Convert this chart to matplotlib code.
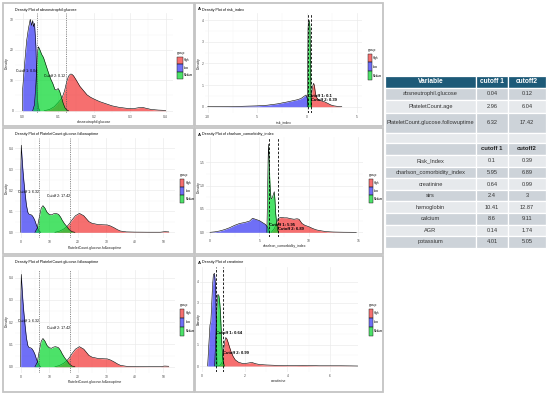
import matplotlib
matplotlib.use("Agg")
import matplotlib.pyplot as plt
from matplotlib.patches import Rectangle
from matplotlib import font_manager

W, H = 550, 396
_names = {f.name for f in font_manager.fontManager.ttflist}
NARROW = "Liberation Sans Narrow" if "Liberation Sans Narrow" in _names else "Liberation Sans"
plt.rcParams['font.family'] = [NARROW, 'DejaVu Sans']

# ---------------- data ----------------
groups = ["High", "Low", "Medium"]
group_colors = ["#F01010", "#1010F0", "#00D62A"]
group_alpha = [0.6, 0.6, 0.7]

# absneutrophil.glucose
abs_low_x = [0.000, 0.000, 0.005, 0.011, 0.016, 0.019, 0.021, 0.025, 0.028, 0.030, 0.033, 0.035, 0.037, 0.039, 0.041, 0.044, 0.048]
abs_low_y = [0.0, 7.3, 15.0, 23.0, 27.0, 28.7, 30.0, 28.0, 29.6, 27.6, 28.7, 25.0, 21.0, 11.0, 4.0, 1.0, 0.0]
abs_med_x = [0.028, 0.033, 0.037, 0.041, 0.044, 0.048, 0.053, 0.058, 0.065, 0.072, 0.078, 0.084, 0.090, 0.095, 0.099, 0.103, 0.108, 0.113, 0.118, 0.123, 0.128]
abs_med_y = [0.0, 2.0, 9.0, 18.8, 21.0, 20.0, 18.5, 17.5, 15.0, 12.5, 10.5, 9.0, 7.0, 6.8, 7.3, 6.5, 4.6, 2.5, 1.0, 0.3, 0.0]
abs_high_x = [0.060, 0.075, 0.088, 0.100, 0.110, 0.117, 0.123, 0.128, 0.133, 0.137, 0.142, 0.150, 0.160, 0.170, 0.180, 0.190, 0.200, 0.215, 0.230, 0.250, 0.270, 0.290, 0.310, 0.325, 0.335, 0.345, 0.360, 0.380, 0.400]
abs_high_y = [0.0, 0.4, 1.3, 2.8, 4.2, 6.5, 9.5, 11.3, 12.0, 12.0, 11.5, 10.0, 8.0, 6.6, 5.2, 4.4, 3.8, 3.0, 2.4, 1.6, 1.1, 0.8, 0.7, 1.0, 1.1, 0.8, 0.4, 0.2, 0.1]

# risk_index
risk_low_x = [-10.0, -8.0, -6.5, -5.0, -4.0, -3.0, -2.0, -1.5, -1.0, -0.6, -0.3, -0.1, 0.05, 0.15]
risk_low_y = [0.0, 0.005, 0.02, 0.04, 0.07, 0.13, 0.22, 0.27, 0.32, 0.38, 0.48, 0.54, 0.35, 0.0]
risk_med_x = [0.02, 0.06, 0.10, 0.15, 0.20, 0.25, 0.30, 0.35, 0.40, 0.45]
risk_med_y = [0.0, 1.5, 3.6, 3.95, 4.0, 3.9, 3.6, 2.0, 0.4, 0.0]
risk_high_x = [0.30, 0.40, 0.50, 0.60, 0.67, 0.75, 0.85, 1.00, 1.20, 1.50, 1.80, 2.10, 2.40, 2.70, 3.00, 3.50]
risk_high_y = [0.0, 0.3, 0.75, 1.0, 1.08, 0.95, 0.6, 0.4, 0.3, 0.26, 0.22, 0.15, 0.08, 0.04, 0.02, 0.0]

# PlateletCount.glucose.followuptime
plat_low_x = [0.0, 0.05, 0.2, 0.4, 0.7, 1.0, 1.5, 2.0, 2.5, 3.0, 3.5, 4.0, 4.5, 5.0, 5.5, 6.0, 6.5, 7.0]
plat_low_y = [0.0, 0.30, 0.415, 0.37, 0.31, 0.26, 0.19, 0.13, 0.095, 0.085, 0.085, 0.08, 0.07, 0.055, 0.035, 0.018, 0.006, 0.0]
plat_med_x = [5.0, 5.8, 6.5, 7.2, 7.8, 8.5, 9.2, 10.0, 10.8, 11.5, 12.1, 12.8, 13.3, 14.0, 14.5, 15.3, 16.2, 17.0, 18.0, 19.0]
plat_med_y = [0.0, 0.02, 0.07, 0.115, 0.127, 0.115, 0.096, 0.085, 0.083, 0.088, 0.09, 0.088, 0.085, 0.072, 0.059, 0.042, 0.027, 0.013, 0.003, 0.0]
plat_high_x = [12.0, 13.5, 15.0, 16.2, 17.2, 18.0, 19.2, 20.6, 22.1, 23.0, 23.9, 25.0, 26.8, 28.5, 30.4, 31.5, 32.7, 34.0, 35.0, 37.0, 40.0, 45.0, 49.0, 50.5, 51.9]
plat_high_y = [0.0, 0.005, 0.015, 0.027, 0.043, 0.059, 0.079, 0.090, 0.079, 0.065, 0.051, 0.043, 0.038, 0.036, 0.035, 0.030, 0.022, 0.012, 0.006, 0.002, 0.001, 0.0005, 0.0005, 0.003, 0.002]

# charlson_comorbidity_index
ch_low_x = [0.0, 0.5, 1.0, 1.5, 2.0, 2.5, 3.0, 3.5, 4.0, 4.3, 4.6, 5.0, 5.3, 5.6, 5.8, 5.95, 6.05]
ch_low_y = [0.0, 0.01, 0.03, 0.06, 0.10, 0.15, 0.19, 0.21, 0.24, 0.30, 0.28, 0.25, 0.21, 0.17, 0.12, 0.06, 0.0]
ch_med_x = [5.75, 5.82, 5.88, 5.92, 5.97, 6.03, 6.10, 6.17, 6.25, 6.33, 6.42, 6.50, 6.57, 6.63, 6.70, 6.77, 6.85, 6.92]
ch_med_y = [0.0, 0.8, 1.6, 1.89, 1.6, 1.23, 0.9, 0.73, 0.72, 0.76, 0.82, 0.87, 0.7, 0.44, 0.28, 0.16, 0.05, 0.0]
ch_high_x = [6.2, 6.5, 6.7, 6.9, 7.2, 7.5, 7.8, 8.2, 8.5, 8.8, 9.0, 9.3, 9.6, 10.0, 10.4, 10.8, 11.3, 11.8, 12.5, 13.5, 14.8]
ch_high_y = [0.0, 0.08, 0.18, 0.30, 0.32, 0.31, 0.31, 0.29, 0.28, 0.29, 0.28, 0.19, 0.15, 0.12, 0.08, 0.05, 0.03, 0.014, 0.006, 0.002, 0.0]

# creatinine
cr_low_x = [0.25, 0.30, 0.36, 0.40, 0.44, 0.48, 0.52, 0.57, 0.60, 0.63, 0.66, 0.69]
cr_low_y = [0.0, 0.9, 1.95, 2.1, 2.9, 3.8, 4.33, 4.4, 4.1, 3.7, 1.3, 0.0]
cr_med_x = [0.58, 0.62, 0.66, 0.70, 0.72, 0.76, 0.78, 0.82, 0.85, 0.88, 0.91, 0.95, 0.99, 1.03]
cr_med_y = [0.0, 1.0, 2.1, 3.0, 3.38, 3.38, 3.33, 3.0, 2.6, 1.9, 1.16, 0.5, 0.2, 0.0]
cr_high_x = [0.75, 0.85, 0.94, 1.00, 1.05, 1.10, 1.15, 1.20, 1.28, 1.35, 1.45, 1.55, 1.70, 1.86, 2.0, 2.15, 2.33, 2.5, 2.7, 3.0, 3.5, 4.0, 4.4, 4.7, 5.0, 5.5, 6.0, 6.5, 7.0, 7.3]
cr_high_y = [0.0, 0.05, 0.2, 0.7, 1.15, 1.35, 1.3, 1.16, 0.9, 0.68, 0.45, 0.29, 0.18, 0.13, 0.12, 0.14, 0.17, 0.11, 0.07, 0.05, 0.03, 0.02, 0.02, 0.03, 0.02, 0.01, 0.01, 0.01, 0.005, 0.0]

panel_vars = ["absneutrophil.glucose", "risk_index", "PlateletCount.glucose.followuptime",
              "charlson_comorbidity_index", "PlateletCount.glucose.followuptime", "creatinine"]
panel_cut1 = [0.04, 0.1, 6.32, 5.95, 6.32, 0.64]
panel_cut2 = [0.12, 0.39, 17.42, 6.89, 17.42, 0.99]
panel_xticks = [[0.0, 0.1, 0.2, 0.3, 0.4], [-10, -5, 0, 5], [0, 10, 20, 30, 40, 50],
                [0, 5, 10, 15], [0, 10, 20, 30, 40, 50], [0, 2, 4, 6]]
panel_xticklabels = [["0.0", "0.1", "0.2", "0.3", "0.4"], ["-10", "-5", "0", "5"],
                     ["0", "10", "20", "30", "40", "50"], ["0", "5", "10", "15"],
                     ["0", "10", "20", "30", "40", "50"], ["0", "2", "4", "6"]]
panel_yticks = [[0, 10, 20, 30], [0, 1, 2, 3, 4], [0.0, 0.1, 0.2, 0.3, 0.4],
                [0.0, 0.5, 1.0, 1.5], [0.0, 0.1, 0.2, 0.3, 0.4], [0, 1, 2, 3, 4]]
panel_yticklabels = [["0", "10", "20", "30"], ["0", "1", "2", "3", "4"],
                     ["0.0", "0.1", "0.2", "0.3", "0.4"], ["0.0", "0.5", "1.0", "1.5"],
                     ["0.0", "0.1", "0.2", "0.3", "0.4"], ["0", "1", "2", "3", "4"]]
panel_curves = [
    [(abs_high_x, abs_high_y), (abs_low_x, abs_low_y), (abs_med_x, abs_med_y)],
    [(risk_high_x, risk_high_y), (risk_low_x, risk_low_y), (risk_med_x, risk_med_y)],
    [(plat_high_x, plat_high_y), (plat_low_x, plat_low_y), (plat_med_x, plat_med_y)],
    [(ch_high_x, ch_high_y), (ch_low_x, ch_low_y), (ch_med_x, ch_med_y)],
    [(plat_high_x, plat_high_y), (plat_low_x, plat_low_y), (plat_med_x, plat_med_y)],
    [(cr_high_x, cr_high_y), (cr_low_x, cr_low_y), (cr_med_x, cr_med_y)],
]

# table data
t1_vars = ["absneutrophil.glucose", "PlateletCount.age", "PlateletCount.glucose.followuptime"]
t1_cut1 = ["0.04", "2.96", "6.32"]
t1_cut2 = ["0.12", "6.04", "17.42"]
t2_vars = ["Risk_Index", "charlson_comorbidity_index", "creatinine", "sirs", "hemoglobin", "calcium", "AGR", "potassium"]
t2_cut1 = ["0.1", "5.95", "0.64", "2.4", "10.41", "8.6", "0.14", "4.01"]
t2_cut2 = ["0.39", "6.89", "0.99", "3", "12.87", "9.11", "1.74", "5.05"]

# ---------------- layout (pixels) ----------------
frames = [(3, 3, 194, 126), (195, 3, 383, 126), (3, 128, 194, 254),
          (195, 128, 383, 254), (3, 256, 194, 392), (195, 256, 383, 392)]
boxes = [(15, 13, 173, 113), (205, 13, 362, 113), (15, 138, 175, 238),
         (206, 137, 363, 237), (15, 270, 175, 373), (200, 267, 358, 372)]
# calibration: (pixel, value) pairs
xcal = [((22.7, 0.0), (165.7, 0.4)), ((207.7, -10), (356.7, 5)), ((20.7, 0), (163.3, 50)),
        ((210, 0), (358.3, 15)), ((20.7, 0), (163.3, 50)), ((202.3, 0), (330, 6))]
ycal = [((110.7, 0), (19.3, 30)), ((106.7, 0), (20, 4)), ((232.3, 0), (148.3, 0.4)),
        ((232.3, 0), (162.3, 1.5)), ((366.7, 0), (277.7, 0.4)), ((366, 0), (281.7, 4))]
middle = [False, True, False, True, False, True]
ann_y = [(13.0, 11.5), (0.49, 0.31), (0.193, 0.174), (0.16, 0.08), (0.205, 0.175), (1.58, 0.63)]
legend_xy = [(177, 53), (368.3, 50), (180, 175), (369, 175), (180, 305), (369, 305)]
legend_key = [(5.5, 7.6), (3.5, 8.9), (4.3, 8.3), (3.7, 8.3), (4.3, 9.2), (3.7, 9.2)]

fig = plt.figure(figsize=(W / 100, H / 100), dpi=100)
fig.patch.set_facecolor("white")

ov = fig.add_axes([0, 0, 1, 1], zorder=5)
ov.set_xlim(0, W)
ov.set_ylim(H, 0)
ov.axis("off")
ov.patch.set_alpha(0)

for (l, t, r, b) in frames:
    ov.add_patch(Rectangle((l, t), r - l, b - t, fill=False, ec="#C4C4C4", lw=1.3))

for i in range(6):
    l, t, r, b = boxes[i]
    ax = fig.add_axes([l / W, 1 - b / H, (r - l) / W, (b - t) / H])
    (px1, v1), (px2, v2) = xcal[i]
    sx = (px2 - px1) / (v2 - v1)
    ax.set_xlim(v1 - (px1 - l) / sx, v1 + (r - px1) / sx)
    (py1, w1), (py2, w2) = ycal[i]
    sy = (py1 - py2) / (w2 - w1)
    ax.set_ylim(w1 - (b - py1) / sy, w1 + (py1 - t) / sy)
    ax.set_facecolor("white")
    for s in ax.spines.values():
        s.set_visible(False)
    xt = panel_xticks[i]
    yt = panel_yticks[i]
    ax.set_xticks(xt)
    ax.set_xticklabels(panel_xticklabels[i])
    ax.set_yticks(yt)
    ax.set_yticklabels(panel_yticklabels[i])
    ax.set_xticks([(a + c) / 2 for a, c in zip(xt[:-1], xt[1:])], minor=True)
    ax.set_yticks([(a + c) / 2 for a, c in zip(yt[:-1], yt[1:])], minor=True)
    ax.tick_params(which="both", length=0, pad=1.2, labelsize=2.4, labelcolor="#4D4D4D")
    ax.grid(which="major", color="#EBEBEB", lw=0.5)
    ax.grid(which="minor", color="#F4F4F4", lw=0.3)
    ax.set_axisbelow(True)
    for k, (xs, ys) in enumerate(panel_curves[i]):
        ax.fill_between(xs, ys, 0, color=group_colors[k], alpha=group_alpha[k], lw=0, zorder=2 + k)
        ax.plot(xs, ys, color="black", lw=0.4, zorder=2.5 + k)
    c1, c2 = panel_cut1[i], panel_cut2[i]
    if middle[i]:
        for c in (c1, c2):
            ax.axvline(c, color="black", lw=0.6, ls=(0, (3, 2)), zorder=10)
        ax.text(c1, ann_y[i][0], f"Cutoff 1: {c1:g}", fontsize=3.0, fontweight="bold",
                ha="left", va="center", zorder=11)
        ax.text(c2, ann_y[i][1], f"Cutoff 2: {c2:g}", fontsize=3.0, fontweight="bold",
                ha="left", va="center", zorder=11)
    else:
        for c in (c1, c2):
            ax.axvline(c, color="#555555", lw=0.45, ls=(0, (2, 1.6)), zorder=10)
        ax.text(c1, ann_y[i][0], f"Cutoff 1: {c1:g}", fontsize=2.5, ha="right", va="center", zorder=11)
        ax.text(c2, ann_y[i][1], f"Cutoff 2: {c2:g}", fontsize=2.5, ha="right", va="center", zorder=11)

    # titles and axis labels (pixel placement)
    fl, ft, fr, fb = frames[i]
    ty = ft + 6.5
    if middle[i]:
        ov.text(fl + 2.5, ty, "A", fontsize=3.0, fontweight="bold", ha="left", va="center")
        ov.text(fl + 6.5, ty, "Density Plot of " + panel_vars[i], fontsize=2.7, ha="left", va="center")
    else:
        ov.text(l, ty, "Density Plot of " + panel_vars[i], fontsize=2.7, ha="left", va="center")
    ov.text((l + r) / 2, b + 9.5, panel_vars[i], fontsize=2.5, ha="center", va="center", color="#222222")
    ov.text(fl + 4.0, (t + b) / 2, "Density", fontsize=2.5, rotation=90, ha="center", va="center", color="#222222")

    # legend
    gx, gy = legend_xy[i]
    kw, kh = legend_key[i]
    ov.text(gx, gy, "group", fontsize=2.3, ha="left", va="center")
    for k, g in enumerate(groups):
        ky = gy + 3.5 + k * kh
        ov.add_patch(Rectangle((gx, ky), kw, kh, fc=group_colors[k], alpha=group_alpha[k], ec="none"))
        ov.add_patch(Rectangle((gx, ky), kw, kh, fill=False, ec="#222222", lw=0.35))
        ov.text(gx + kw + 1.3, ky + kh / 2, g, fontsize=1.9, ha="left", va="center")

# ---------------- table ----------------
cx = [385, 476, 508, 546]
dark_row = "#CDD3D9"
light_row = "#E6E9EC"
head_col = "#1D5A78"
txt_col = "#333333"


def cell_row(y0, y1, texts, fc, color=txt_col, weight="normal", size=4.1):
    for j in range(3):
        ov.add_patch(Rectangle((cx[j], y0), cx[j + 1] - cx[j], y1 - y0, fc=fc, ec="white", lw=0.9))
        if texts[j]:
            ov.text((cx[j] + cx[j + 1]) / 2, (y0 + y1) / 2, texts[j], fontsize=size, color=color,
                    fontweight=weight, ha="center", va="center")


cell_row(75.5, 87.5, ["Variable", "cutoff 1", "cutoff2"], head_col, color="white", weight="bold", size=4.8)
t1_bounds = [87.5, 100, 112.5, 132.5]
for k in range(3):
    cell_row(t1_bounds[k], t1_bounds[k + 1], [t1_vars[k], t1_cut1[k], t1_cut2[k]],
             dark_row if k % 2 == 0 else light_row)
cell_row(132.5, 143, ["", "", ""], light_row)
cell_row(143, 155, ["", "cutoff 1", "cutoff2"], dark_row, color="#222222", weight="bold", size=4.2)
y = 155
for k in range(len(t2_vars)):
    cell_row(y, y + 11.6, [t2_vars[k], t2_cut1[k], t2_cut2[k]], light_row if k % 2 == 0 else dark_row)
    y += 11.6

fig.savefig("out.png", dpi=100, facecolor="white")
